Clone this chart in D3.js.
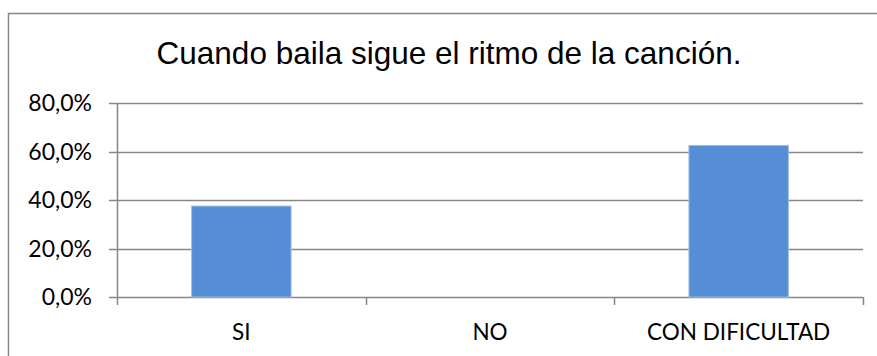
<!DOCTYPE html>
<html>
<head>
<meta charset="utf-8">
<script src="https://cdn.jsdelivr.net/npm/d3@7"></script>
<style>
  html, body { margin: 0; padding: 0; background: #fff; }
  svg { display: block; }
</style>
</head>
<body>
<div id="chart"></div>
<script>
// data
const categories = ['SI', 'NO', 'CON DIFICULTAD'];
const values = [0.375, 0, 0.625];
const yTicks = [0, 0.2, 0.4, 0.6, 0.8];
const title = 'Cuando baila sigue el ritmo de la canción.';

const width = 877;
const height = 356;
const plot = { left: 117, right: 863, top: 103, bottom: 297 };
const gridColor = '#878787';
const labelFont = 'Lato, "Open Sans", sans-serif';

const svg = d3.select('#chart').append('svg')
  .attr('width', width)
  .attr('height', height);

// chart frame (runs off the right and bottom edge)
svg.append('rect')
  .attr('x', 8.5)
  .attr('y', 13.5)
  .attr('width', 900)
  .attr('height', 400)
  .attr('fill', '#fff')
  .attr('stroke', gridColor)
  .attr('stroke-width', 1.5);

// title
svg.append('text')
  .attr('x', 449)
  .attr('y', 63.5)
  .attr('text-anchor', 'middle')
  .style('font-family', '"Liberation Sans", Arial, sans-serif')
  .style('font-size', '31.5px')
  .style('fill', '#000')
  .text(title);

const x = d3.scaleBand()
  .domain(categories)
  .range([plot.left, plot.right])
  .paddingInner(0.6)
  .paddingOuter(0.3);

const xOuter = d3.scaleBand()
  .domain(categories)
  .range([plot.left, plot.right]);

const y = d3.scaleLinear()
  .domain([0, 0.8])
  .range([plot.bottom, plot.top]);

const fmt = v => d3.format('.1f')(v * 100).replace('.', ',') + '%';

// gridlines
svg.append('g')
  .selectAll('line')
  .data(yTicks)
  .join('line')
  .attr('x1', plot.left - 8)
  .attr('x2', plot.right)
  .attr('y1', d => Math.round(y(d)) + 0.5)
  .attr('y2', d => Math.round(y(d)) + 0.5)
  .attr('stroke', gridColor)
  .attr('stroke-width', 1.5);

// y axis line
svg.append('line')
  .attr('x1', plot.left + 0.5)
  .attr('x2', plot.left + 0.5)
  .attr('y1', plot.top)
  .attr('y2', plot.bottom + 8)
  .attr('stroke', gridColor)
  .attr('stroke-width', 1.5);

// x axis ticks between categories
const xTickPos = categories.map(c => xOuter(c)).concat([plot.right]);
svg.append('g')
  .selectAll('line')
  .data(xTickPos.slice(1))
  .join('line')
  .attr('x1', d => Math.round(d) + 0.5)
  .attr('x2', d => Math.round(d) + 0.5)
  .attr('y1', plot.bottom)
  .attr('y2', plot.bottom + 8)
  .attr('stroke', gridColor)
  .attr('stroke-width', 1.5);

// y labels
svg.append('g')
  .selectAll('text')
  .data(yTicks)
  .join('text')
  .attr('x', 92)
  .attr('y', d => y(d))
  .attr('dy', '0.35em')
  .attr('text-anchor', 'end')
  .style('font-family', labelFont)
  .style('font-size', '23px')
  .style('fill', '#000')
  .text(fmt);

// bars
svg.append('g')
  .selectAll('rect')
  .data(values)
  .join('rect')
  .attr('x', (d, i) => x(categories[i]))
  .attr('y', d => y(d))
  .attr('width', x.bandwidth())
  .attr('height', d => y(0) - y(d))
  .attr('fill', '#558ED5')
  .attr('stroke', '#9DBDE8')
  .attr('stroke-width', d => d > 0 ? 1 : 0);

// x labels
svg.append('g')
  .selectAll('text')
  .data(categories)
  .join('text')
  .attr('x', d => xOuter(d) + xOuter.bandwidth() / 2)
  .attr('y', 332)
  .attr('dy', '0.35em')
  .attr('text-anchor', 'middle')
  .style('font-family', labelFont)
  .style('font-size', '22.5px')
  .style('fill', '#000')
  .text(d => d);
</script>
</body>
</html>
